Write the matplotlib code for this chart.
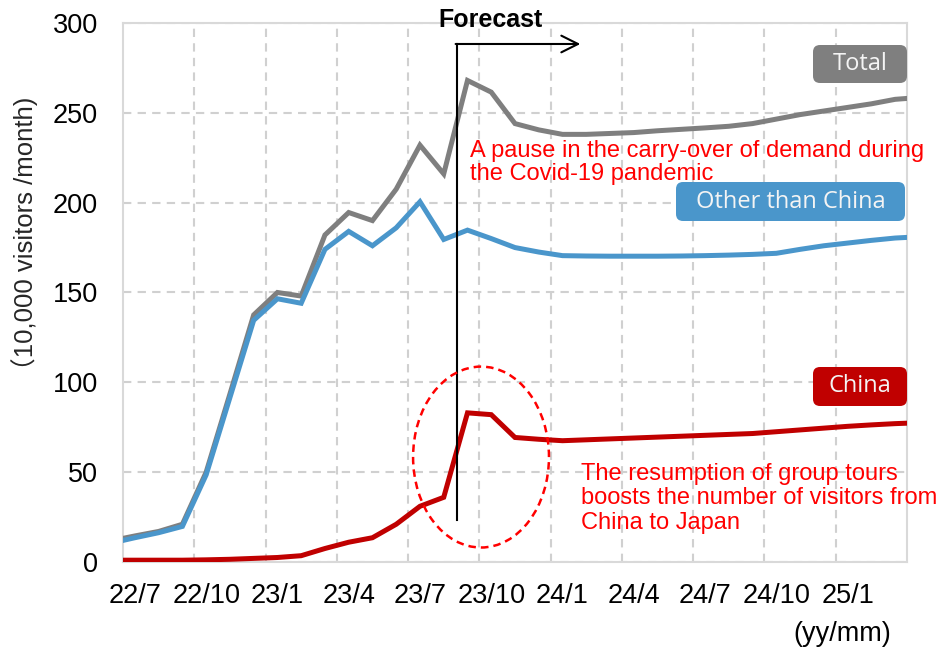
import numpy as np
import matplotlib
matplotlib.use("Agg")
import matplotlib.pyplot as plt
from matplotlib.patches import Ellipse, FancyBboxPatch

# monthly categories, 22/6 and 25/4 sit just outside the visible range
months = ['22/6', '22/7', '22/8', '22/9', '22/10', '22/11', '22/12',
          '23/1', '23/2', '23/3', '23/4', '23/5', '23/6', '23/7', '23/8',
          '23/9', '23/10', '23/11', '23/12', '24/1', '24/2', '24/3', '24/4',
          '24/5', '24/6', '24/7', '24/8', '24/9', '24/10', '24/11', '24/12',
          '25/1', '25/2', '25/3', '25/4']

# 10,000 visitors / month
total = [11.8, 14.5, 17.0, 21.0, 50.0, 93.5, 137.5, 150.0, 148.0, 182.0,
         194.5, 190.0, 207.5, 232.0, 216.0, 268.0, 261.5, 244.0, 240.5,
         238.0, 238.0, 238.5, 239.0, 240.0, 240.8, 241.6, 242.5, 244.0,
         246.5, 249.0, 251.0, 253.0, 255.0, 257.5, 258.5]
other = [10.5, 13.5, 16.3, 19.8, 48.5, 91.5, 134.5, 146.5, 144.0, 174.0,
         184.0, 176.0, 186.0, 200.5, 179.5, 184.7, 180.0, 175.0, 172.5,
         170.5, 170.3, 170.2, 170.2, 170.2, 170.3, 170.5, 170.8, 171.2,
         171.8, 174.0, 176.0, 177.5, 179.0, 180.3, 181.0]
china = [1.0, 1.0, 1.0, 1.0, 1.2, 1.5, 2.0, 2.5, 3.5, 7.5,
         11.0, 13.5, 21.0, 31.0, 36.0, 83.0, 82.0, 69.3, 68.3,
         67.5, 68.0, 68.5, 69.0, 69.5, 70.0, 70.5, 71.0, 71.5,
         72.5, 73.5, 74.5, 75.5, 76.3, 77.0, 77.5]

tick_labels = ['22/7', '22/10', '23/1', '23/4', '23/7', '23/10',
               '24/1', '24/4', '24/7', '24/10', '25/1']

GRAY = '#7F7F7F'
BLUE = '#4A96CB'
RED = '#C00000'
plt.rcParams['font.family'] = ['Liberation Sans', 'Noto Sans CJK JP', 'DejaVu Sans']

x = np.arange(len(months)) - 1  # 22/7 -> 0

fig = plt.figure(figsize=(9.44, 6.47), dpi=100)
ax = fig.add_axes([0.1303, 0.1314, 0.8305, 0.8331])

ax.plot(x, total, color=GRAY, lw=3.6, solid_joinstyle='miter', zorder=3)
ax.plot(x, other, color=BLUE, lw=3.6, solid_joinstyle='miter', zorder=4)
ax.plot(x, china, color=RED, lw=3.6, solid_joinstyle='miter', zorder=5)

ax.set_xlim(-0.5, 32.5)
ax.set_ylim(0, 300)
ax.set_yticks(np.arange(0, 301, 50))
ax.set_xticks([months.index(m) - 1 for m in tick_labels])
ax.set_xticklabels(tick_labels)
ax.set_xticks(np.arange(2.5, 30, 3), minor=True)
ax.tick_params(axis='both', which='both', length=0, labelsize=19.5)
ax.tick_params(axis='y', pad=18)
ax.tick_params(axis='x', pad=15)

grid_kw = dict(color='#D0D0D0', lw=1.5, linestyle=(0, (4, 3)))
ax.grid(axis='y', which='major', **grid_kw)
ax.grid(axis='x', which='minor', **grid_kw)
ax.grid(axis='x', which='major', visible=False)
for s in ax.spines.values():
    s.set_color('#D9D9D9')
    s.set_linewidth(1.5)

ax.set_ylabel('（10,000 visitors /month)', fontsize=18.5, color='#262626')
ax.yaxis.set_label_coords(-0.108, 0.598)
fig.text(0.892, 0.02, '(yy/mm)', fontsize=19.5, ha='center', va='center')

# forecast marker
ax.plot([13.55, 13.55], [23.4, 288.3], color='black', lw=1.5, zorder=6)
ax.annotate('', xy=(18.75, 288.3), xytext=(13.5, 288.3),
            arrowprops=dict(arrowstyle='->,head_length=1.2,head_width=0.6',
                            color='black', lw=1.5, shrinkA=0, shrinkB=0),
            zorder=6)
ax.text(14.95, 301.5, 'Forecast', fontsize=18, fontweight='bold',
        ha='center', va='center', clip_on=False)

# series labels (boxes placed in inches from the figure's lower left)
box_font = ['Open Sans', 'DejaVu Sans']
for label, color, (bx, by, bw, bh) in [
        ('Total', GRAY, (8.13, 5.64, 0.94, 0.38)),
        ('Other than China', BLUE, (6.76, 4.26, 2.29, 0.39)),
        ('China', RED, (8.13, 2.41, 0.94, 0.39))]:
    fig.patches.append(FancyBboxPatch((bx, by), bw, bh,
                                      boxstyle='round,pad=0,rounding_size=0.07',
                                      fc=color, ec='none',
                                      transform=fig.dpi_scale_trans, zorder=7))
    fig.text(bx + bw / 2, by + bh / 2, label, transform=fig.dpi_scale_trans,
             ha='center', va='center', color='#F4F4F4', fontsize=17,
             family=box_font, zorder=8)

# annotations
ax.text(0.4426, 0.783, 'A pause in the carry-over of demand during\nthe Covid-19 pandemic',
        transform=ax.transAxes, color='#FF0000', fontsize=17, va='top', ha='left',
        linespacing=1.09, zorder=8, clip_on=False)
ax.text(0.584, 0.184, 'The resumption of group tours\nboosts the number of visitors from\nChina to Japan',
        transform=ax.transAxes, color='#FF0000', fontsize=17, va='top', ha='left',
        linespacing=1.15, zorder=8, clip_on=False)
ax.add_patch(Ellipse((14.57, 58.4), 5.72, 100.7, fill=False, ec='#FF0000',
                     lw=1.8, linestyle=(0, (3, 2)), zorder=8))

fig.savefig('out.png', dpi=100)
